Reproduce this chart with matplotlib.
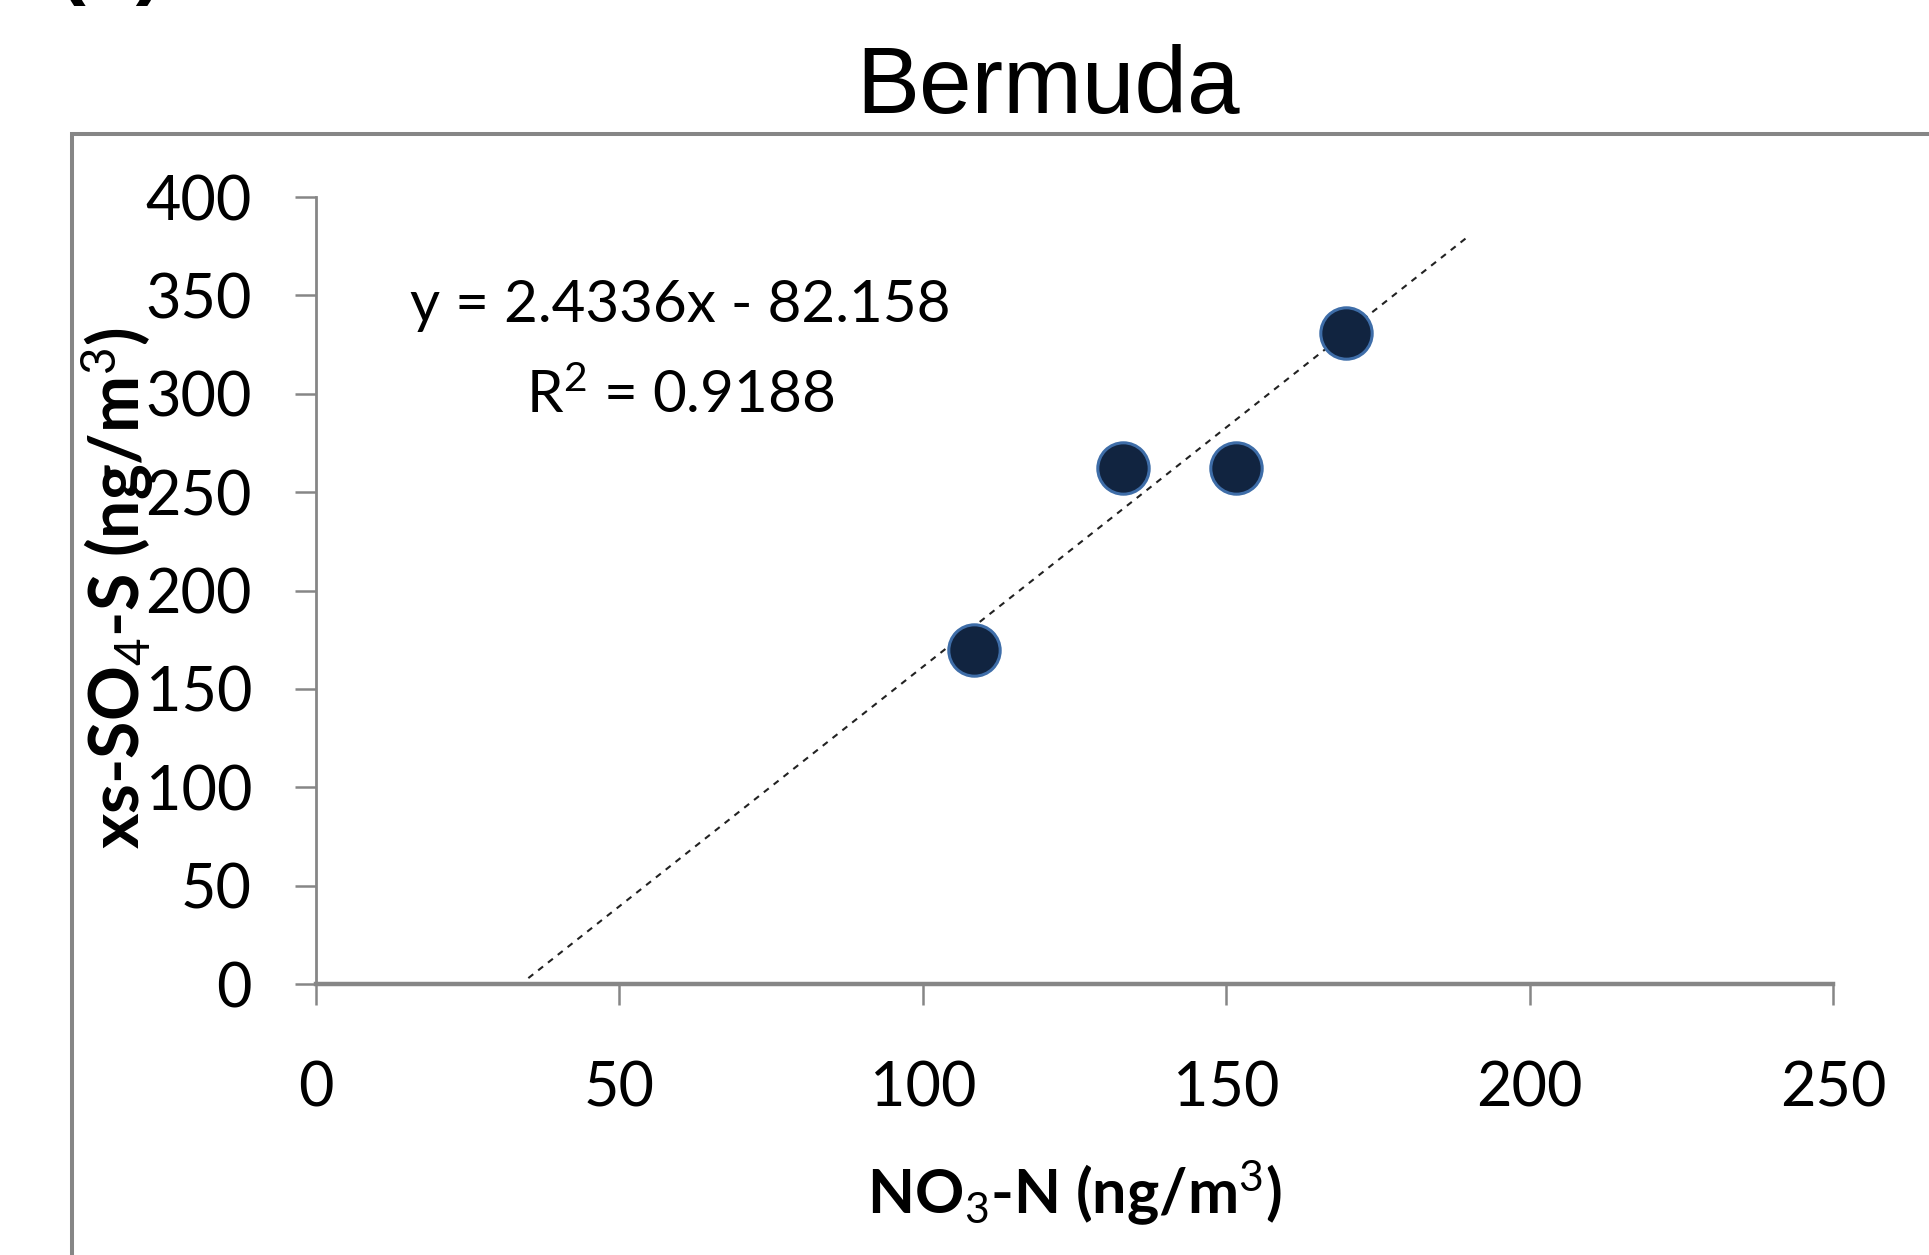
import matplotlib
matplotlib.use("Agg")
import matplotlib.pyplot as plt
from matplotlib.patches import Rectangle
import numpy as np

# Data (NO3-N vs xs-SO4-S, Bermuda)
no3_n = [108.5, 133.0, 151.7, 169.7]
xs_so4_s = [170.0, 262.5, 262.5, 331.0]
trend_slope = 2.4336
trend_intercept = -82.158
trend_range = [35.0, 190.0]
x_ticks = [0, 50, 100, 150, 200, 250]
y_ticks = [0, 50, 100, 150, 200, 250, 300, 350, 400]

plt.rcParams["font.family"] = ["Lato", "DejaVu Sans"]
plt.rcParams["mathtext.fontset"] = "custom"
plt.rcParams["mathtext.rm"] = "Lato"
plt.rcParams["mathtext.it"] = "Lato"
plt.rcParams["mathtext.bf"] = "Lato:bold"

fig = plt.figure(figsize=(19.29, 12.55), dpi=100)
ax = fig.add_axes([0.1638, 0.2159, 0.7864, 0.6271])

# outer frame, runs off the right and bottom edges
fig.patches.append(Rectangle((0.0373, -0.2), 1.2, 1.0932, transform=fig.transFigure,
                             fill=False, edgecolor="#868686", linewidth=2.9))

# panel letter, cut off at the top as in the source
fig.text(0.03, 0.995, "(b)", fontsize=60, fontweight="bold", family="Liberation Sans",
         va="bottom", ha="left")

# trendline
tx = np.array(trend_range)
ax.plot(tx, trend_slope * tx + trend_intercept, linestyle=(0, (3, 3)),
        color="#222222", linewidth=1.5, zorder=2)

ax.plot(no3_n, xs_so4_s, linestyle="none", marker="o", markersize=37,
        markerfacecolor="#112440", markeredgecolor="#3E6DA8",
        markeredgewidth=2.2, zorder=3)

ax.text(60, 345, "y = 2.4336x - 82.158", ha="center", va="center", fontsize=42)
ax.text(60, 299, "R$^2$ = 0.9188", ha="center", va="center", fontsize=42)

ax.set_xlim(0, 250)
ax.set_ylim(0, 400)
ax.set_xticks(x_ticks)
ax.set_yticks(y_ticks)
ax.tick_params(axis="both", direction="out", length=15, width=1.8, color="#868686",
               labelsize=44)
ax.tick_params(axis="y", pad=31)
ax.tick_params(axis="x", pad=40)

for side in ["top", "right"]:
    ax.spines[side].set_visible(False)
ax.spines["left"].set_color("#868686")
ax.spines["left"].set_linewidth(2.0)
ax.spines["bottom"].set_color("#868686")
ax.spines["bottom"].set_linewidth(3.2)

ax.set_xlabel("NO$_3$-N (ng/m$^3$)", fontsize=44, fontweight="bold")
ax.xaxis.set_label_coords(0.5, -0.2656)
ax.xaxis.label.set_va("center")
ax.set_ylabel("xs-SO$_4$-S (ng/m$^3$)", fontsize=49, fontweight="bold")
ax.yaxis.set_label_coords(-0.131, 0.503)
ax.yaxis.label.set_va("center")

fig.text(0.5433, 0.910, "Bermuda", fontsize=68, family="Liberation Sans",
         ha="center", va="baseline")

fig.savefig("out.png", dpi=100)
